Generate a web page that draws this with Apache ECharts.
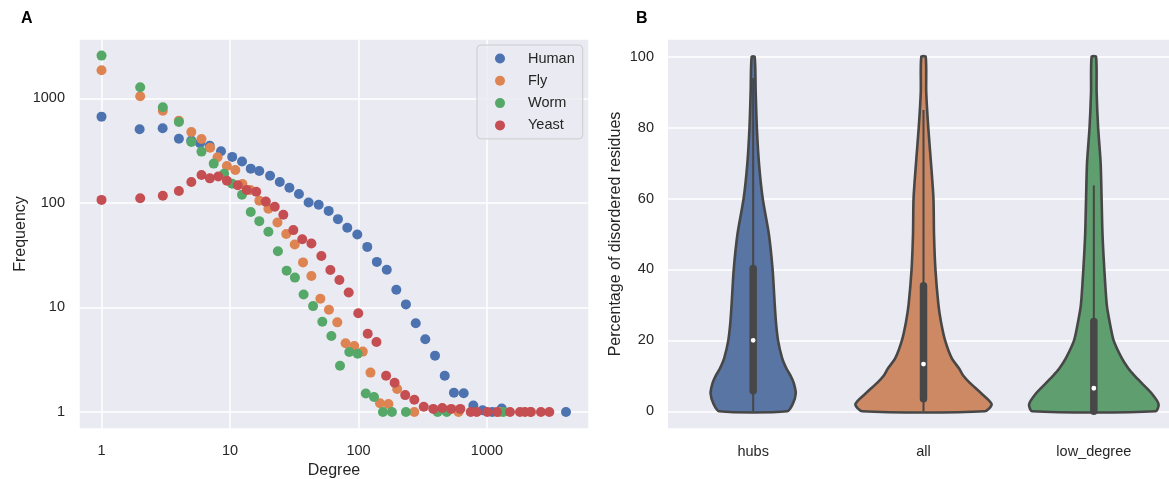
<!DOCTYPE html>
<html>
<head>
<meta charset="utf-8">
<script src="https://cdn.jsdelivr.net/npm/echarts@6/dist/echarts.min.js"></script>
<style>
html, body { margin: 0; padding: 0; background: #fff; }
#chart { width: 1169px; height: 479px; }
</style>
</head>
<body>
<div id="chart"></div>
<script>
// A: degree distributions (log-log)
const humanDeg = [1, 1.98, 2.99, 4, 5, 5.84, 6.95, 8.51, 10.4, 12.4, 14.5, 16.9, 20.5, 24.4, 29, 34.4, 40.9, 49, 58.6, 69.2, 81.8, 97.9, 117, 139, 166, 197, 234, 279, 331, 394, 469, 553, 659, 783, 925, 1099, 1303, 4120];
const humanFreq = [670, 507, 519, 412, 395, 373, 353, 312, 276, 249, 213, 202, 182, 159, 140, 122, 101, 96, 84, 70, 58, 50, 38, 27.3, 23, 14.8, 10.7, 7.06, 4.97, 3.46, 2.22, 1.53, 1.51, 1.15, 1.04, 1, 1.08, 1];
const flyDeg = [1, 2, 3, 4, 5, 6, 7, 8, 9.46, 11, 12.5, 14.4, 16.9, 19.9, 23.4, 27.4, 31.9, 37, 43, 50.5, 58.9, 68.4, 79.4, 92.7, 108, 124, 147, 171, 200, 272, 600, 1250, 2200];
const flyFreq = [1862, 1050, 764, 613, 478, 409, 338, 274, 226, 207, 152, 133, 105, 88, 65, 50.5, 40, 27, 20, 12.1, 9.5, 7.2, 4.54, 4.28, 3.78, 2.38, 1.21, 1.19, 1.66, 1, 1, 1, 1];
const wormDeg = [1, 2, 3, 4, 5, 6, 7.47, 9, 10.4, 12.4, 14.5, 16.9, 19.9, 23.6, 27.6, 32, 37.4, 44.3, 52.3, 61.5, 71.8, 84.8, 98.5, 114, 132, 155, 182, 234, 413, 486, 1340];
const wormFreq = [2570, 1280, 824, 596, 384, 310, 238, 190, 153, 120, 82, 67, 53, 34.5, 22.5, 19.3, 13.3, 10.3, 7.3, 5.34, 2.77, 3.75, 3.61, 1.5, 1.39, 1, 1, 1, 1, 1, 1];
const yeastDeg = [1, 2, 3, 4, 5, 6, 6.97, 8.1, 9.46, 11.5, 13.5, 16, 19, 22.3, 26, 31.1, 36.5, 43, 51.4, 60.4, 71, 83.9, 99.6, 118, 138, 164, 191, 231, 272, 322, 382, 449, 527, 620, 747, 831, 1005, 1197, 1511, 1806, 1976, 2188, 2630, 3055];
const yeastFreq = [107, 111, 117, 130, 159, 185, 172, 179, 163, 148, 133, 128, 103, 92, 77, 55, 45, 41, 31.1, 22.8, 18.3, 13.9, 8.8, 5.6, 4.68, 2.22, 1.9, 1.45, 1.31, 1.12, 1.07, 1.09, 1.07, 1.07, 1, 1, 1, 1, 1, 1, 1, 1, 1, 1];

// B: violin profiles (relative density at each level) + box stats [whiskerLo, q1, median, q3, whiskerHi]
const groups = ['hubs', 'all', 'low_degree'];
const levels = [0, 2, 5, 8, 10, 12, 15, 20, 25, 30, 40, 50, 60, 70, 80, 90, 100];
const hubsDensity = [0.50, 0.58, 0.625, 0.595, 0.55, 0.49, 0.425, 0.365, 0.335, 0.317, 0.285, 0.23, 0.14, 0.085, 0.054, 0.037, 0.022];
const allDensity = [0.90, 1.0, 0.85, 0.68, 0.585, 0.525, 0.414, 0.317, 0.259, 0.219, 0.175, 0.154, 0.146, 0.11, 0.07, 0.04, 0.032];
const lowDensity = [0.906, 0.95, 0.85, 0.70, 0.60, 0.51, 0.41, 0.29, 0.234, 0.19, 0.154, 0.127, 0.114, 0.10, 0.063, 0.041, 0.032];
const hubsBox = [0, 5.8, 20, 40.3, 94];
const allBox = [0, 3.5, 13.3, 35.4, 85];
const lowBox = [0, 0, 6.5, 25.3, 63.7];

const scatterColors = ['#4c72b0', '#dd8452', '#55a868', '#c44e52'];
const violinColors = ['#5875a4', '#cc8963', '#5f9e6e'];
const densities = [hubsDensity, allDensity, lowDensity];
const boxes = [hubsBox, allBox, lowBox];
const gray = '#474747';
const font = 'Liberation Sans, Arial, sans-serif';
const txt = '#262626';

function zip(a, b) { return a.map((v, i) => [v, b[i]]); }

function isPow10(v) {
  const l = Math.log10(v);
  return Math.abs(l - Math.round(l)) < 1e-6;
}

function violinItem(params, api) {
  const i = api.value(0);
  const dens = densities[i];
  const band = api.size([1, 0])[0];
  const right = [], left = [];
  levels.forEach((y, k) => {
    const c = api.coord([i, y]);
    const w = dens[k] * 0.4 * band;
    right.push([c[0] + w, c[1]]);
    left.unshift([c[0] - w, c[1]]);
  });
  const b = boxes[i];
  const lo = api.coord([i, b[0]]), q1 = api.coord([i, b[1]]), md = api.coord([i, b[2]]),
        q3 = api.coord([i, b[3]]), hi = api.coord([i, b[4]]);
  return {
    type: 'group',
    children: [
      { type: 'polygon', shape: { points: right.concat(left), smooth: 0.25 },
        style: { fill: violinColors[i], stroke: gray, lineWidth: 2.6 } },
      { type: 'line', shape: { x1: lo[0], y1: lo[1], x2: hi[0], y2: hi[1] },
        style: { stroke: gray, lineWidth: 2 } },
      { type: 'line', shape: { x1: q1[0], y1: q1[1], x2: q3[0], y2: q3[1] },
        style: { stroke: gray, lineWidth: 7.5, lineCap: 'round' } },
      { type: 'circle', shape: { cx: md[0], cy: md[1], r: 2.4 }, style: { fill: '#fff' } }
    ]
  };
}

const chart = echarts.init(document.getElementById('chart'));
const splitWhite = { show: true, lineStyle: { color: '#ffffff', width: 1.5 } };
const label = { color: txt, fontSize: 14.5, fontFamily: font };
const nameStyle = { color: txt, fontSize: 16, fontFamily: font };

chart.setOption({
  animation: false,
  title: [
    { text: 'A', left: 21, top: 11, padding: 0, textStyle: { fontSize: 16, fontWeight: 'bold', color: '#000', fontFamily: font } },
    { text: 'B', left: 636, top: 11, padding: 0, textStyle: { fontSize: 16, fontWeight: 'bold', color: '#000', fontFamily: font } }
  ],
  legend: {
    orient: 'vertical', left: 477, top: 45,
    itemWidth: 46, itemHeight: 10, itemGap: 7.3,
    padding: [6, 8, 6, 18],
    backgroundColor: 'rgba(234,234,242,0.85)', borderColor: '#cccccc', borderWidth: 1, borderRadius: 4,
    textStyle: { color: txt, fontSize: 14.5, fontFamily: font },
    data: ['Human', 'Fly', 'Worm', 'Yeast'].map(n => ({ name: n, icon: 'circle' }))
  },
  grid: [
    { left: 79, top: 39, width: 510, height: 390, outerBoundsMode: 'none', show: true, backgroundColor: '#eaeaf2', borderWidth: 0 },
    { left: 668, top: 39, width: 511, height: 390, outerBoundsMode: 'none', show: true, backgroundColor: '#eaeaf2', borderWidth: 0 }
  ],
  xAxis: [
    { type: 'log', logBase: 10, gridIndex: 0, min: 0.668, max: 6223,
      name: 'Degree', nameLocation: 'middle', nameGap: 30, nameTextStyle: nameStyle,
      axisLine: { show: false }, axisTick: { show: false }, minorTick: { show: false },
      splitLine: splitWhite,
      axisLabel: Object.assign({ margin: 14, showMinLabel: false, showMaxLabel: false,
        formatter: v => isPow10(v) ? String(Math.round(v)) : '' }, label) },
    { type: 'category', gridIndex: 1, data: groups, boundaryGap: true,
      axisLine: { show: false }, axisTick: { show: false }, splitLine: { show: false },
      axisLabel: Object.assign({ margin: 15 }, label) }
  ],
  yAxis: [
    { type: 'log', logBase: 10, gridIndex: 0, min: 0.687, max: 3707,
      name: 'Frequency', nameLocation: 'middle', nameGap: 50, nameTextStyle: nameStyle,
      axisLine: { show: false }, axisTick: { show: false }, minorTick: { show: false },
      splitLine: splitWhite,
      axisLabel: Object.assign({ margin: 14, showMinLabel: false, showMaxLabel: false,
        formatter: v => isPow10(v) ? String(Math.round(v)) : '' }, label) },
    { type: 'value', gridIndex: 1, min: -5, max: 105,
      name: 'Percentage of disordered residues', nameLocation: 'middle', nameGap: 44, nameTextStyle: nameStyle,
      axisLine: { show: false }, axisTick: { show: false },
      splitLine: splitWhite,
      axisLabel: Object.assign({ margin: 14, showMinLabel: false, showMaxLabel: false,
        formatter: v => (v % 20 === 0 ? String(v) : '') }, label) }
  ],
  series: [
    { name: 'Human', type: 'scatter', xAxisIndex: 0, yAxisIndex: 0, symbolSize: 10, data: zip(humanDeg, humanFreq), itemStyle: { color: scatterColors[0], opacity: 1 } },
    { name: 'Fly', type: 'scatter', xAxisIndex: 0, yAxisIndex: 0, symbolSize: 10, data: zip(flyDeg, flyFreq), itemStyle: { color: scatterColors[1], opacity: 1 } },
    { name: 'Worm', type: 'scatter', xAxisIndex: 0, yAxisIndex: 0, symbolSize: 10, data: zip(wormDeg, wormFreq), itemStyle: { color: scatterColors[2], opacity: 1 } },
    { name: 'Yeast', type: 'scatter', xAxisIndex: 0, yAxisIndex: 0, symbolSize: 10, data: zip(yeastDeg, yeastFreq), itemStyle: { color: scatterColors[3], opacity: 1 } },
    { type: 'custom', xAxisIndex: 1, yAxisIndex: 1, renderItem: violinItem,
      encode: { x: 0, y: 1 }, data: groups.map((g, i) => [i, 50]) }
  ]
});
</script>
</body>
</html>
